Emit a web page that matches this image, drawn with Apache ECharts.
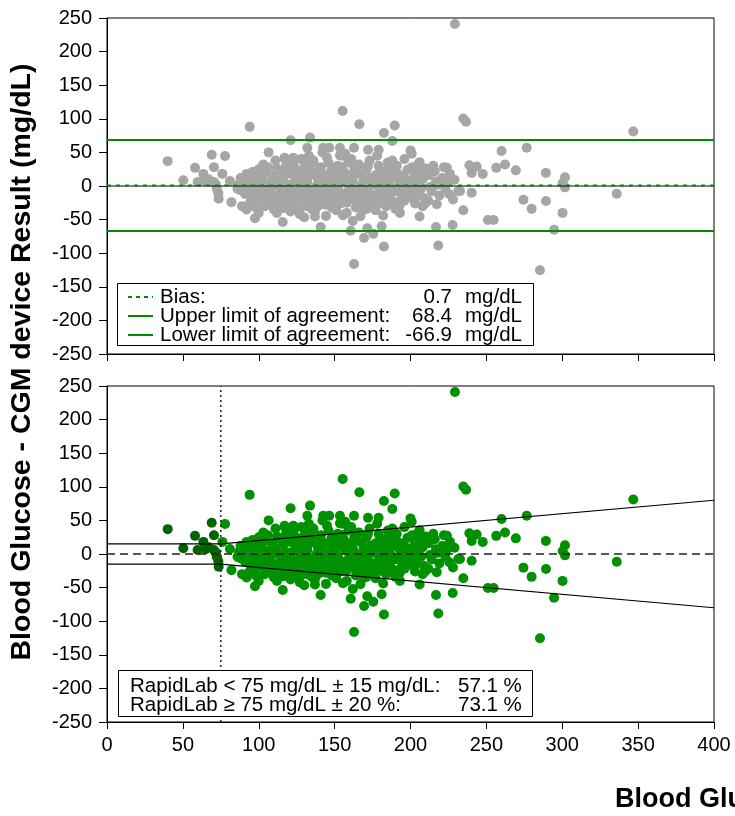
<!DOCTYPE html>
<html>
<head>
<meta charset="utf-8">
<script src="https://cdn.jsdelivr.net/npm/echarts@6.0.0/dist/echarts.min.js"></script>
<style>
  html, body { margin: 0; padding: 0; background: #fff; }
  #main { width: 735px; height: 816px; }
</style>
</head>
<body>
<div id="main"></div>
<script>
// reference glucose (x) vs. difference reference - CGM (y), both mg/dL
// points with reference below 75 mg/dL
var lowPoints = [
  [40, 37], [50.3, 8.5], [58, 27], [63.5, 18], [69, 46.6], [70.5, 28], [59.7, 6],
  [65, 7], [70.5, 6], [72.3, -4], [73.4, -11], [73.6, -19], [67, 10], [71.8, 2]
];
// points with reference at or above 75 mg/dL
var highPoints = [
  [77.8, 44.6], [76, 18], [81, 7.4], [82, -24], [94, 88], [96, 21], [90, 2.5], [87.6, -6], [94, -26], [97.5, -48],
  [103, 32], [106.5, 50], [121, 68], [133.8, 72], [132, 57], [142.5, 57], [146.5, 57], [153.5, 57], [162.8, 57],
  [155.3, 111.6], [166.3, 92], [182.5, 79], [189.6, 90], [188, 67], [172, 54], [179, 54], [200, 53], [200.8, 48],
  [206, 35.5], [224, 27], [117, 40.6], [122.8, 42], [130.5, 39], [136, 35.7], [153.5, 45.6],
  [115.8, -53.5], [130, -46.5], [137, -45.5], [140.8, -61], [144.3, -44.5], [155.5, -43.5], [160.6, -66.5],
  [162.8, -116], [162, -52], [120.6, -36], [109.6, -26],
  [171.5, -63], [175.5, -71], [169.4, -77.5], [182.5, -90], [181, -60], [193, -40], [206, -45.5], [216.8, -61],
  [227.8, -58], [218.3, -88.5], [202.3, -20], [211.7, -22], [217.3, -27], [216.8, 7], [223.8, 6], [229, 9.4],
  [212.8, -1.5], [225.6, -12.4], [209.6, -26], [197, -7.4],
  [229.3, 241], [234.8, 100.5], [236.6, 95.5],
  [260, 52], [276.6, 57], [238.8, 31], [243.6, 29], [240.3, 19.5], [247.6, 18], [256.5, 27], [262.3, 32],
  [269.4, 23.3], [289.2, 19.5], [301.8, 13], [300.3, 4.5], [301.8, -2],
  [232.6, -7.4], [240.3, -10], [274.4, -20.3], [279.8, -34], [289.3, -22.3], [300.2, -40], [234.8, -36],
  [251, -50.5], [254.8, -50.5], [294.6, -65], [285.3, -125.5], [346.8, 81], [335.9, -11.4], [231.5, -7.5],
  // dense core
  [86, -4], [88, 12], [89, -30], [87, 3],
  [91, -12], [92, 18], [93, -2], [94, 6], [95, -20], [92, -35],
  [96, -8], [97, 14], [98, -25], [99, 2], [100, 25], [98, -15],
  [101, -5], [102, 10], [103, -18], [104, -30], [100, -40], [105, 20], [103, 3],
  [106, -10], [107, 5], [108, -22], [109, 15], [106, 28], [110, -35], [108, -3],
  [111, 8], [112, -14], [113, -28], [114, 22], [111, 38], [115, -6], [113, 0], [112, -40],
  [116, 12], [117, -20], [118, 30], [119, -8], [116, -33], [120, 2], [118, -15], [117, 42],
  [121, -4], [122, 18], [123, -24], [124, 8], [121, -38], [125, -12], [123, 35], [124, 26],
  [126, -18], [127, 4], [128, 22], [129, -30], [126, 12], [130, -8], [128, 40], [127, -42],
  [131, 0], [132, -22], [133, 15], [134, 32], [131, -12], [135, -34], [133, 45], [132, 6],
  [136, -6], [137, 20], [138, -26], [139, 10], [136, 38], [140, -16], [138, 0], [137, -38],
  [141, 28], [142, -10], [143, 4], [144, -28], [141, 14], [145, 42], [143, -20], [142, 50],
  [146, -4], [147, 18], [148, -32], [149, 8], [146, 35], [150, -14], [148, 24], [147, -22],
  [151, 0], [152, 30], [153, -18], [154, 12], [151, -36], [155, 45], [153, -8], [152, 20],
  [156, -12], [157, 6], [158, -25], [159, 35], [156, 22], [160, -2], [158, -40], [157, 48],
  [161, 14], [162, -20], [163, 2], [164, -32], [161, 40], [165, -8], [163, 26], [162, -14],
  [166, -4], [167, 18], [168, -28], [169, 8], [166, 32], [170, -16], [168, 0], [167, -45],
  [171, 24], [172, -8], [173, -22], [174, 12], [171, -34], [175, 4], [173, 38], [172, -2],
  [176, -14], [177, 16], [178, -26], [179, 30], [176, 2], [180, -6], [178, 45], [177, -36],
  [181, 10], [182, -18], [183, 22], [184, -30], [181, -4], [185, 35], [183, 0], [182, -44],
  [186, -10], [187, 14], [188, -22], [189, 28], [186, 4], [190, -34], [188, 38], [187, -2],
  [191, 18], [192, -8], [193, 6], [194, -20], [191, 30], [195, 2], [193, -28],
  [196, 12], [197, -12], [198, 24], [199, -4], [196, 40], [200, 8],
  [201, 28], [202, -6], [203, 16], [204, -14], [205, 32], [202, 4],
  [206, 20], [207, -4], [208, 10], [209, -18], [210, 26],
  [212, 16], [214, -8], [216, 22], [218, 2], [219, -14], [215, 30],
  [221, 12], [223, -4], [226, 18], [228, -20], [222, 28],
  [98, -32], [102, 22], [105, -24], [107, -14], [110, 10], [112, 26], [114, -20], [116, -2], [119, 18],
  [120, -26], [122, -12], [124, -32], [125, 14], [127, -6], [129, 10], [130, 28], [132, -30], [134, -14],
  [135, 20], [137, -16], [139, -30], [140, 24], [142, -2], [144, 16], [145, -12], [147, 2], [149, -24],
  [150, 14], [152, -4], [154, -26], [155, 28], [157, -18], [159, -8], [160, 16], [162, 8], [164, -12],
  [165, 20], [167, -22], [169, -36], [170, 10], [172, 30], [174, -16], [175, -28], [177, 4], [179, -10],
  [180, 22], [182, -26], [184, 8], [185, -16], [187, 24], [189, -8], [190, 12], [192, -30], [194, 16],
  [196, -22], [198, 4], [200, -12], [203, -26], [205, 8], [208, -30]
];

var bias = 0.7;
var upperLoA = 68.4;
var lowerLoA = -66.9;
var threshold = 75;      // mg/dL
var absLimit = 15;       // mg/dL below threshold
var relLimit = 0.20;     // fraction above threshold
var pctBelow = '57.1';
var pctAbove = '73.1';

var FONT = '"Liberation Sans", Arial, sans-serif';
var GREEN = '#008c00';
var TXT = '20.5px ' + FONT;

function xAxisFor(gi, showLabels) {
  return {
    type: 'value', gridIndex: gi, min: 0, max: 400, interval: 50,
    axisLine: { show: true, onZero: false, lineStyle: { color: '#000', width: 1 } },
    axisTick: { show: true, length: 7, lineStyle: { color: '#000' } },
    axisLabel: { show: showLabels, color: '#000', fontSize: 20, fontFamily: FONT, margin: 13 },
    splitLine: { show: false }
  };
}
function yAxisFor(gi) {
  return {
    type: 'value', gridIndex: gi, min: -250, max: 250, interval: 50,
    axisLine: { show: true, onZero: false, lineStyle: { color: '#000', width: 1 } },
    axisTick: { show: true, length: 8, lineStyle: { color: '#000' } },
    axisLabel: { color: '#000', fontSize: 20, fontFamily: FONT, margin: 15 },
    splitLine: { show: false }
  };
}
function hline(gi, y, color, width, dash) {
  return {
    type: 'line', xAxisIndex: gi, yAxisIndex: gi, data: [[0, y], [400, y]],
    symbol: 'none', silent: true, z: 5,
    lineStyle: { color: color, width: width, type: dash || 'solid' }
  };
}
function label(x, y, text, align) {
  return {
    type: 'text', z: 11, x: x, y: y,
    style: { text: text, font: TXT, fill: '#000', align: align || 'left', verticalAlign: 'middle' }
  };
}

var myChart = echarts.init(document.getElementById('main'));
myChart.setOption({
  animation: false,
  grid: [
    { left: 107, right: 21, top: 18, bottom: 462, show: true, borderColor: '#000', borderWidth: 1 },
    { left: 107, right: 21, top: 386, bottom: 94, show: true, borderColor: '#000', borderWidth: 1 }
  ],
  xAxis: [xAxisFor(0, false), xAxisFor(1, true)],
  yAxis: [yAxisFor(0), yAxisFor(1)],
  series: [
    // top panel: Bland-Altman
    {
      type: 'scatter', xAxisIndex: 0, yAxisIndex: 0, data: lowPoints.concat(highPoints),
      symbolSize: 10, itemStyle: { color: '#a6a6a6', opacity: 1 }, z: 2
    },
    hline(0, 0, '#000', 1),
    hline(0, upperLoA, GREEN, 2),
    hline(0, lowerLoA, GREEN, 2),
    hline(0, bias, GREEN, 2, [4, 5]),
    // bottom panel: agreement limits
    {
      type: 'scatter', xAxisIndex: 1, yAxisIndex: 1, data: highPoints,
      symbolSize: 10, itemStyle: { color: '#009100', opacity: 1 }, z: 2
    },
    {
      type: 'scatter', xAxisIndex: 1, yAxisIndex: 1, data: lowPoints,
      symbolSize: 10, itemStyle: { color: '#006400', opacity: 1 }, z: 3
    },
    hline(1, 0, '#222', 1.3, [8, 5]),
    {
      type: 'line', xAxisIndex: 1, yAxisIndex: 1, symbol: 'none', silent: true, z: 5,
      data: [[0, absLimit], [threshold, absLimit], [400, 400 * relLimit]],
      lineStyle: { color: '#000', width: 1.2 }
    },
    {
      type: 'line', xAxisIndex: 1, yAxisIndex: 1, symbol: 'none', silent: true, z: 5,
      data: [[0, -absLimit], [threshold, -absLimit], [400, -400 * relLimit]],
      lineStyle: { color: '#000', width: 1.2 }
    },
    {
      type: 'line', xAxisIndex: 1, yAxisIndex: 1, symbol: 'none', silent: true, z: 5,
      data: [[threshold, -250], [threshold, 250]],
      lineStyle: { color: '#222', width: 1.5, type: [2, 3] }
    }
  ],
  graphic: [
    // y axis title
    {
      type: 'text', x: 22, y: 362, rotation: Math.PI / 2,
      style: {
        text: 'Blood Glucose - CGM device Result (mg/dL)', fill: '#000',
        font: 'bold 28.5px ' + FONT, align: 'center', verticalAlign: 'middle'
      }
    },
    // x axis title (runs off the page)
    {
      type: 'text', x: 615, y: 800,
      style: {
        text: 'Blood Glucose RapidLab (mg/dL)', fill: '#000',
        font: 'bold 27px ' + FONT, align: 'left', verticalAlign: 'middle'
      }
    },
    // top legend box
    {
      type: 'rect', shape: { x: 117.5, y: 283.5, width: 416, height: 62 }, z: 10,
      style: { fill: '#fff', stroke: '#000', lineWidth: 1 }
    },
    { type: 'line', z: 11, shape: { x1: 128, y1: 297, x2: 153, y2: 297 }, style: { stroke: GREEN, lineWidth: 2, lineDash: [4, 4] } },
    { type: 'line', z: 11, shape: { x1: 128, y1: 316, x2: 153, y2: 316 }, style: { stroke: GREEN, lineWidth: 2 } },
    { type: 'line', z: 11, shape: { x1: 128, y1: 335, x2: 153, y2: 335 }, style: { stroke: GREEN, lineWidth: 2 } },
    label(160, 297, 'Bias:'),
    label(160, 316, 'Upper limit of agreement:'),
    label(160, 335, 'Lower limit of agreement:'),
    label(452, 297, bias.toFixed(1), 'right'),
    label(452, 316, upperLoA.toFixed(1), 'right'),
    label(452, 335, lowerLoA.toFixed(1), 'right'),
    label(465, 297, 'mg/dL'),
    label(465, 316, 'mg/dL'),
    label(465, 335, 'mg/dL'),
    // bottom legend box
    {
      type: 'rect', shape: { x: 118.5, y: 670.5, width: 414, height: 46 }, z: 10,
      style: { fill: '#fff', stroke: '#000', lineWidth: 1 }
    },
    label(130, 686, 'RapidLab < ' + threshold + ' mg/dL ± ' + absLimit + ' mg/dL:'),
    label(130, 705, 'RapidLab ≥ ' + threshold + ' mg/dL ± ' + Math.round(relLimit * 100) + ' %:'),
    label(458, 686, pctBelow + ' %'),
    label(458, 705, pctAbove + ' %')
  ]
});
</script>
</body>
</html>
